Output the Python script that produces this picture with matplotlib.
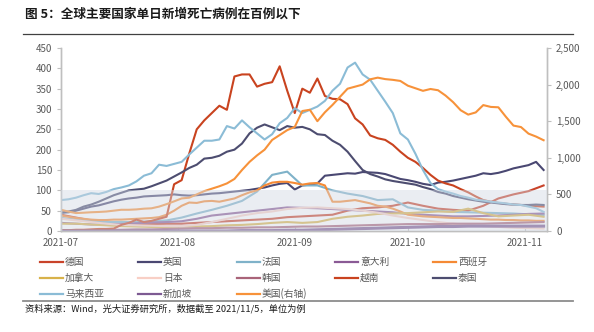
import matplotlib
matplotlib.use("Agg")
import matplotlib.pyplot as plt
import matplotlib.ticker as mticker
import matplotlib.transforms as mtrans
from matplotlib.patches import Rectangle
import numpy as np
import pandas as pd

plt.rcParams['font.family'] = ['Noto Sans CJK SC', 'DejaVu Sans']

# 2-day grid for the big lines, 4-day grid for the small ones
d2 = pd.date_range('2021-07-01', periods=65, freq='2D')
d4 = pd.date_range('2021-07-01', periods=33, freq='4D')

vietnam = [2, 2, 3, 3, 4, 5, 5, 6, 15, 20, 28, 22, 25, 30, 35, 115, 125, 190, 250, 272,
           290, 308, 298, 380, 385, 385, 355, 362, 366, 405, 345, 290, 350, 340, 375, 332,
           325, 324, 312, 277, 262, 235, 228, 224, 212, 195, 180, 170, 155, 138, 124, 117,
           112, 103, 95, 85, 76, 72, 69, 67, 65, 64, 62, 61, 60]
malaysia = [76, 78, 82, 88, 93, 91, 96, 103, 107, 112, 122, 136, 142, 163, 160, 165, 170,
            188, 205, 222, 222, 225, 258, 252, 272, 255, 240, 225, 238, 265, 278, 302, 290,
            298, 306, 320, 345, 362, 402, 414, 385, 372, 345, 318, 290, 240, 225, 190, 150,
            118, 103, 97, 92, 86, 82, 77, 75, 72, 70, 68, 65, 64, 60, 56, 47]
thailand = [45, 48, 52, 60, 65, 72, 80, 88, 94, 100, 102, 104, 110, 117, 124, 134, 144,
            155, 163, 178, 180, 185, 195, 200, 215, 240, 254, 262, 255, 248, 258, 254, 256,
            250, 238, 236, 222, 212, 195, 172, 150, 140, 134, 127, 123, 120, 117, 114, 108,
            103, 96, 92, 86, 82, 78, 75, 72, 70, 68, 66, 65, 64, 64, 65, 64]
uk = [45, 46, 50, 55, 60, 63, 68, 73, 77, 80, 82, 85, 86, 87, 88, 90, 88, 87, 88, 90, 92,
      93, 95, 97, 99, 101, 104, 107, 112, 116, 118, 102, 112, 114, 117, 136, 138, 140, 142,
      141, 145, 144, 143, 140, 134, 128, 125, 121, 116, 113, 119, 121, 124, 128, 132, 136,
      142, 140, 143, 148, 154, 158, 162, 170, 150]
spain = [38, 35, 32, 30, 28, 27, 27, 28, 28, 29, 30, 31, 32, 34, 40, 50, 62, 70, 69, 73,
         74, 72, 76, 80, 88, 95, 100, 112, 119, 121, 121, 118, 114, 117, 118, 112, 72, 72,
         74, 76, 72, 68, 62, 60, 55, 48, 40, 38, 36, 35, 34, 33, 32, 32, 31, 30, 29, 28,
         28, 27, 27, 26, 26, 25, 25]
usa = [290, 265, 245, 250, 256, 260, 266, 278, 290, 290, 295, 305, 310, 333, 367, 405, 445,
       455, 500, 545, 578, 611, 650, 711, 833, 944, 1033, 1111, 1244, 1311, 1378, 1422,
       1639, 1656, 1500, 1622, 1722, 1833, 1944, 1972, 2000, 2072, 2095, 2075, 2065, 2050,
       1985, 1950, 1915, 1940, 1923, 1850, 1760, 1650, 1590, 1620, 1720, 1695, 1690, 1560,
       1440, 1420, 1330, 1290, 1240]

france = [32, 28, 25, 22, 22, 22, 24, 26, 33, 43, 52, 62, 74, 97, 138, 146, 112, 112, 100,
          92, 86, 76, 78, 58, 52, 50, 47, 46, 45, 44, 43, 41, 39]
germany = [40, 33, 26, 20, 18, 17, 17, 18, 18, 20, 22, 24, 26, 28, 30, 34, 36, 38, 40, 50,
           56, 58, 62, 70, 62, 55, 52, 50, 62, 80, 90, 98, 112]
italy = [20, 18, 16, 16, 17, 19, 21, 22, 24, 30, 38, 42, 46, 50, 54, 58, 57, 56, 54, 52, 50,
         48, 46, 42, 40, 38, 36, 36, 37, 38, 40, 42, 43]
canada = [18, 18, 16, 14, 12, 11, 10, 10, 11, 11, 12, 14, 15, 17, 20, 22, 20, 22, 30, 35,
          38, 42, 43, 44, 46, 48, 47, 55, 44, 36, 38, 40, 35]
japan = [30, 26, 22, 18, 15, 14, 13, 12, 12, 15, 22, 30, 38, 44, 48, 54, 57, 58, 56, 54, 50,
         45, 38, 32, 27, 22, 18, 15, 12, 10, 8, 7, 6]
korea = [2, 2, 2, 3, 3, 4, 4, 5, 6, 7, 7, 8, 8, 9, 9, 10, 11, 11, 12, 13, 14, 15, 16, 17, 17,
         17, 18, 18, 18, 19, 20, 21, 22]
singapore = [0, 0, 0, 0, 0, 0, 0, 0, 0, 0, 0, 0, 1, 1, 1, 2, 2, 3, 4, 5, 6, 7, 8, 9, 10, 11,
             11, 12, 12, 12, 12, 12, 12]

W, H = 594, 332
fig = plt.figure(figsize=(W / 100, H / 100), dpi=100)
ax = fig.add_axes([61 / W, 1 - 231 / H, 486 / W, 183 / H])
ax2 = ax.twinx()

lw = 1.5
h = {}
h['德国'], = ax.plot(d4, germany, color='#c9432a', lw=lw)
h['英国'], = ax.plot(d2, uk, color='#4a4872', lw=lw)
h['法国'], = ax.plot(d4, france, color='#7fb2c9', lw=lw)
h['意大利'], = ax.plot(d4, italy, color='#8a5a95', lw=lw)
h['西班牙'], = ax.plot(d2, spain, color='#f58a35', lw=lw)
h['加拿大'], = ax.plot(d4, canada, color='#d8b24a', lw=lw)
h['日本'], = ax.plot(d4, japan, color='#f8cfc5', lw=lw)
h['韩国'], = ax.plot(d4, korea, color='#a96479', lw=lw)
h['越南'], = ax.plot(d2, vietnam, color='#c9431f', lw=lw)
h['泰国'], = ax.plot(d2, thailand, color='#4d4d70', lw=lw)
h['马来西亚'], = ax.plot(d2, malaysia, color='#8bbcd6', lw=lw)
h['新加坡'], = ax.plot(d4, singapore, color='#7d5a92', lw=2.2)
h['美国(右轴)'], = ax2.plot(d2, usa, color='#f7923a', lw=lw)

# shaded band (0-100 on left axis) laid over all the lines
tr = mtrans.blended_transform_factory(ax2.transAxes, ax.transData)
ax2.add_patch(Rectangle((0, 0), 1, 100, transform=tr, facecolor='#d2d9e4',
                        alpha=0.45, lw=0, zorder=10))

ax.set_ylim(0, 450)
ax2.set_ylim(0, 2500)
ax.set_yticks(np.arange(0, 451, 50))
ax2.set_yticks(np.arange(0, 2501, 500))
ax2.yaxis.set_major_formatter(mticker.StrMethodFormatter('{x:,.0f}'))
ax.set_xlim(pd.Timestamp('2021-07-01'), pd.Timestamp('2021-07-01') + pd.Timedelta(days=128.9))
ax.xaxis.set_major_locator(matplotlib.dates.MonthLocator())
ax.xaxis.set_major_formatter(matplotlib.dates.DateFormatter('%Y-%m'))

gray = '#595959'
for a in (ax, ax2):
    a.spines['top'].set_visible(False)
    for s in ('left', 'right', 'bottom'):
        a.spines[s].set_color('#bfbfbf')
        a.spines[s].set_linewidth(1.0)
    a.tick_params(labelsize=7, colors=gray, length=3, width=0.8)
    a.tick_params(axis='both', color='#bfbfbf')
ax.tick_params(axis='x', direction='in', pad=5)

# legend drawn row by row, 5 columns
rows = [['德国', '英国', '法国', '意大利', '西班牙'],
        ['加拿大', '日本', '韩国', '越南', '泰国'],
        ['马来西亚', '新加坡', '美国(右轴)']]
col_x = [40, 138, 237, 335, 433]
row_y = [262, 278, 294]
for r, names in enumerate(rows):
    for c, name in enumerate(names):
        x0, y0 = col_x[c], row_y[r]
        fig.add_artist(plt.Line2D([x0 / W, (x0 + 23) / W], [1 - y0 / H] * 2,
                                  color=h[name].get_color(), lw=1.6))
        fig.text((x0 + 25) / W, 1 - y0 / H, name, fontsize=7, color=gray,
                 va='center', ha='left')

fig.text(25 / W, 1 - 14 / H, '图 5：全球主要国家单日新增死亡病例在百例以下', fontsize=9.1,
         fontweight='bold', va='center', ha='left', color='#1a1a1a')
fig.add_artist(plt.Line2D([23 / W, 573 / W], [1 - 34 / H] * 2, color='#404040', lw=0.9))
fig.add_artist(plt.Line2D([23 / W, 573 / W], [1 - 301 / H] * 2, color='#8c8c8c', lw=1.3))
fig.text(25 / W, 1 - 309 / H, '资料来源：Wind，光大证券研究所，数据截至 2021/11/5，单位为例',
         fontsize=6.7, va='center', ha='left', color='#1a1a1a')

fig.savefig('out.png', dpi=100)
